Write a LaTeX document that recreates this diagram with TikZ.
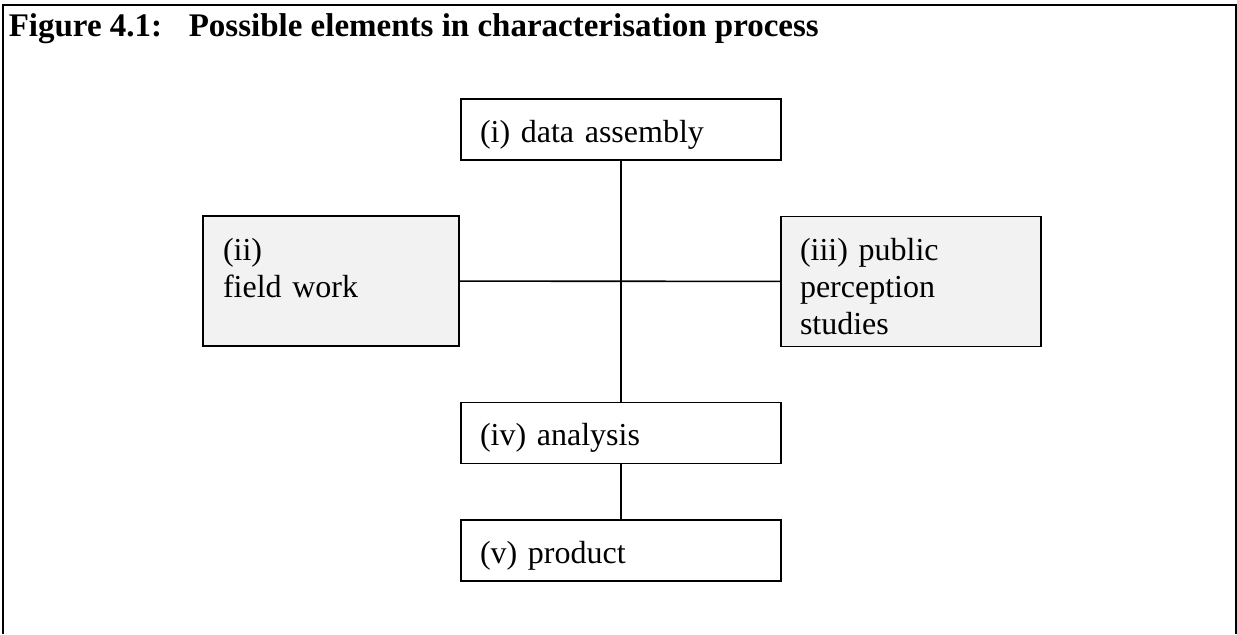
\documentclass[tikz,border=0pt]{standalone}
\usepackage{fontspec}
\setmainfont{Liberation Serif}
\tikzstyle{every node}=[inner ysep=0pt]
\tikzstyle{stage}=[draw, rectangle, line width=0.8pt, align=left, inner xsep=9.5pt, text width=141pt, text height=21.5pt, text depth=9pt, font=\fontsize{16}{18.5}\selectfont]
\tikzstyle{study}=[stage, fill=black!5, text height=22pt, text depth=43pt]
\tikzstyle{caption}=[anchor=base west, inner xsep=0pt, font=\bfseries\fontsize{16.5}{19}\selectfont]

\begin{document}
\begin{tikzpicture}[x=0.5pt, y=-0.5pt, line width=0.8pt]
\useasboundingbox (0,0) rectangle (1237,634);
% frame round the figure
\draw[line width=0.7pt] (3,634) -- (3,5) -- (1236,5) -- (1236,634);
\node[caption] (fig)   at (8,36)   {Figure 4.1:};
\node[caption] (title) at (188,36) {Possible elements in characterisation process};

\node[stage] (data) at (621,129.5) {(i) data assembly};
\node[stage] (analysis) [below of=data, node distance=151.75pt] {(iv) analysis};
\node[stage] (product) [below of=analysis, node distance=58.75pt] {(v) product};
\node[study, inner xsep=10pt, text width=108pt] (field) at (331,281) {(ii)\\field work};
\node[study, text width=111pt] (public) at (911,281.5) {(iii) public\\perception\\studies};

\draw (data) -- (analysis);
\draw (field) -- (public);
\draw (analysis) -- (product);
\end{tikzpicture}
\end{document}
